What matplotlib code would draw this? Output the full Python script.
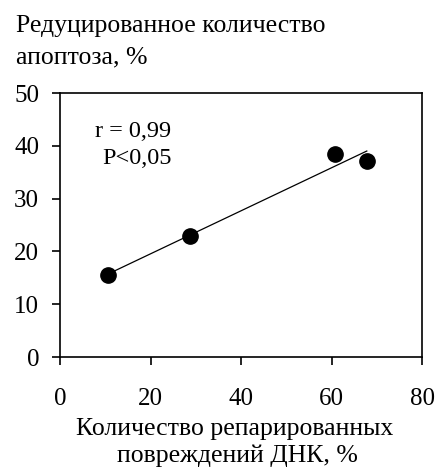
import numpy as np
import matplotlib.pyplot as plt

repaired = [10.7, 28.7, 60.8, 67.8]
apoptosis = [15.6, 22.9, 38.4, 37.1]
x_ticks = [0, 20, 40, 60, 80]
y_ticks = [0, 10, 20, 30, 40, 50]

plt.rcParams['font.family'] = ['Liberation Serif', 'DejaVu Serif']

W, H = 440, 473
fig = plt.figure(figsize=(W / 100, H / 100), dpi=100)
ax = fig.add_axes([60 / W, 1 - 357 / H, 362 / W, 264 / H])

ax.plot(repaired, apoptosis, 'o', color='black', markersize=11)

# линия регрессии
k, b = np.polyfit(repaired, apoptosis, 1)
xs = np.array([min(repaired), max(repaired)])
ax.plot(xs, k * xs + b, color='black', linewidth=0.9)

ax.set_xlim(0, 80)
ax.set_ylim(0, 50)
ax.set_xticks(x_ticks)
ax.set_yticks(y_ticks)
ax.tick_params(direction='out', length=6, width=1.2, labelsize=18, color='black')
ax.tick_params(axis='x', pad=16)
ax.tick_params(axis='y', pad=9)
for s in ax.spines.values():
    s.set_linewidth(1.2)

fig.text(95 / W, 1 - 137 / H, 'r = 0,99', fontsize=17.5, va='baseline')
fig.text(102 / W, 1 - 164 / H, 'P<0,05', fontsize=17.5, va='baseline')

fig.text(16 / W, 1 - 32 / H, 'Редуцированное количество', fontsize=18.5, va='baseline')
fig.text(16 / W, 1 - 63 / H, 'апоптоза, %', fontsize=18.5, va='baseline')

fig.text(235 / W, 1 - 435 / H, 'Количество репарированных', fontsize=18.5,
         ha='center', va='baseline')
fig.text(237 / W, 1 - 462 / H, 'повреждений ДНК, %', fontsize=18.5,
         ha='center', va='baseline')

fig.savefig('out.png', dpi=100)
